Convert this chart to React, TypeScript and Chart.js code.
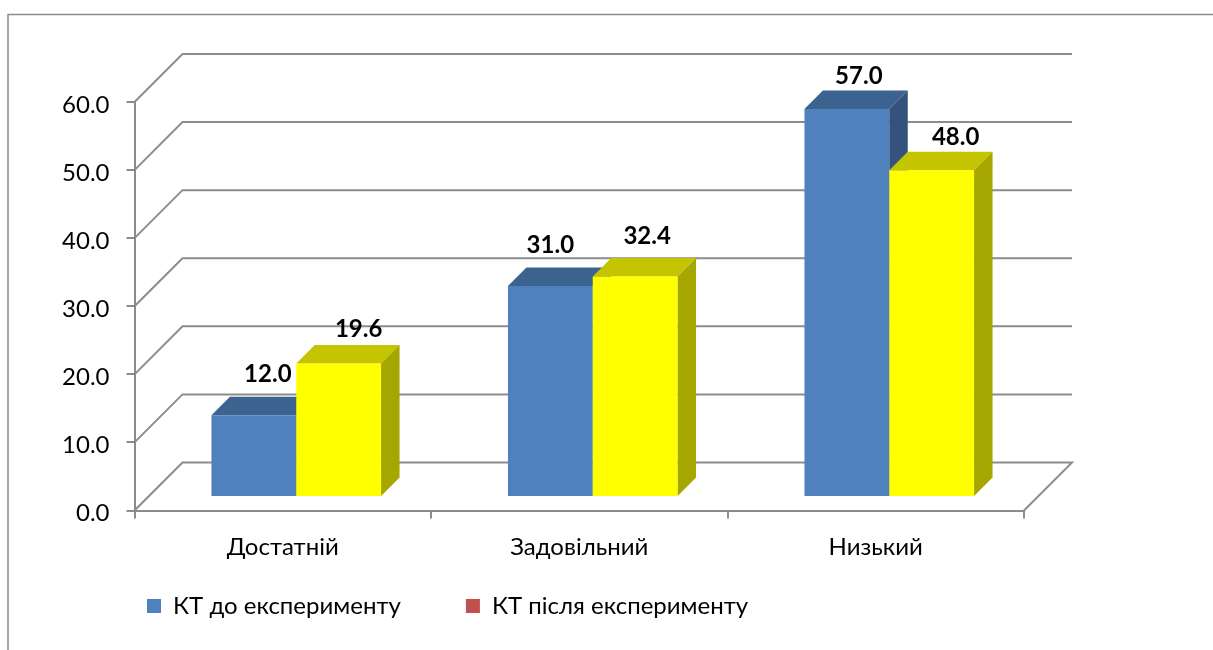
import React, { useEffect, useRef } from "react";
import { Chart, registerables } from "chart.js";

Chart.register(...registerables);

const categories = ["Достатній", "Задовільний", "Низький"];
const seriesBeforeName = "КТ до експерименту";
const seriesAfterName = "КТ після експерименту";
const seriesBefore = [12.0, 31.0, 57.0];
const seriesAfter = [19.6, 32.4, 48.0];
const yMax = 60;
const yStep = 10;

// hand-placed label nudges of the reference, in px from the default spot above the bar
const labelNudgeBefore = [[14, -41], [0, -41], [12, -33]];
const labelNudgeAfter = [[20, -34], [12, -40], [24, -33]];

const FONT = "Lato, 'Open Sans', sans-serif";
const GRID = "#8c8c8c";
const WALL = 48;
const SHIFT = 13.5;
const DEPTH = 18.5;
const faces = [
  { top: "#3c6390", side: "#33537d" },
  { top: "#c4c400", side: "#a6a600" },
];

function poly(ctx: CanvasRenderingContext2D, pts: number[][], fill: string) {
  ctx.beginPath();
  pts.forEach((p, i) => (i ? ctx.lineTo(p[0], p[1]) : ctx.moveTo(p[0], p[1])));
  ctx.closePath();
  ctx.fillStyle = fill;
  ctx.fill();
}

const threeD = {
  id: "threeD",
  beforeLayout(chart: any) {
    const lg = chart.legend;
    if (lg && !lg.__patched) {
      const fit = lg.fit;
      lg.fit = function () {
        fit.call(this);
        this.height = 40;
      };
      lg.__patched = true;
    }
  },
  afterLayout(chart: any) {
    const lg = chart.legend;
    const p = lg.options.labels.padding;
    lg.left = 147 - p;
    lg.right = lg.left + 1000;
    lg.top = 594 - p;
  },
  beforeDraw(chart: any) {
    const ctx = chart.ctx;
    ctx.save();
    ctx.strokeStyle = "#8a8a8a";
    ctx.lineWidth = 1.5;
    ctx.beginPath();
    ctx.moveTo(8, 650);
    ctx.lineTo(8, 14.5);
    ctx.lineTo(1213, 14.5);
    ctx.stroke();
    ctx.restore();
  },
  beforeDatasetsDraw(chart: any) {
    const { ctx, chartArea: a, scales } = chart;
    ctx.save();
    ctx.strokeStyle = GRID;
    ctx.lineWidth = 2;
    ctx.lineJoin = "miter";
    scales.y.ticks.forEach((t: any) => {
      const y = scales.y.getPixelForValue(t.value);
      ctx.beginPath();
      ctx.moveTo(a.left, y);
      ctx.lineTo(a.left + WALL, y - WALL);
      ctx.lineTo(a.right + WALL, y - WALL);
      if (t.value === 0) ctx.lineTo(a.right, y);
      ctx.stroke();
    });
    ctx.restore();

    // series are painted left to right so the right-hand bar overlaps its neighbour's side
    ctx.save();
    ctx.translate(SHIFT, -SHIFT);
    chart.data.datasets.forEach((_: any, ds: number) => {
      const f = faces[ds];
      chart.getDatasetMeta(ds).data.forEach((el: any) => {
        const { x, y, base, width } = el.getProps(["x", "y", "base", "width"], true);
        const l = x - width / 2;
        const r = x + width / 2;
        poly(ctx, [[l, y], [l + DEPTH, y - DEPTH], [r + DEPTH, y - DEPTH], [r, y]], f.top);
        poly(ctx, [[r, y], [r + DEPTH, y - DEPTH], [r + DEPTH, base - DEPTH], [r, base]], f.side);
        el.draw(ctx);
      });
    });
    ctx.restore();
  },
  beforeDatasetDraw() {
    return false;
  },
  afterDatasetsDraw(chart: any) {
    const ctx = chart.ctx;
    ctx.save();
    ctx.font = `bold 24px ${FONT}`;
    ctx.fillStyle = "#000";
    ctx.textAlign = "center";
    ctx.textBaseline = "middle";
    [labelNudgeBefore, labelNudgeAfter].forEach((nudge, ds) => {
      chart.getDatasetMeta(ds).data.forEach((el: any, i: number) => {
        const v = chart.data.datasets[ds].data[i] as number;
        ctx.fillText(v.toFixed(1), el.x + SHIFT + nudge[i][0], el.y - SHIFT + nudge[i][1]);
      });
    });
    ctx.restore();
  },
};

export default function App() {
  const ref = useRef<HTMLCanvasElement>(null);
  useEffect(() => {
    const chart = new Chart(ref.current as HTMLCanvasElement, {
      type: "bar",
      data: {
        labels: categories,
        datasets: [
          { label: seriesBeforeName, data: seriesBefore, backgroundColor: "#4f81bd" },
          { label: seriesAfterName, data: seriesAfter, backgroundColor: "#ffff00" },
        ],
      },
      options: {
        animation: false,
        responsive: false,
        devicePixelRatio: 1,
        categoryPercentage: 0.572,
        barPercentage: 1,
        layout: { padding: { left: 0, right: 189, top: 102, bottom: 0 } },
        plugins: {
          tooltip: { enabled: false },
          legend: {
            position: "bottom",
            align: "start",
            labels: {
              font: { family: FONT, size: 24 },
              color: "#000",
              boxWidth: 14,
              boxHeight: 14,
              padding: 65,
              generateLabels: () => [
                { text: seriesBeforeName, fillStyle: "#4f81bd", strokeStyle: "#4f81bd", lineWidth: 0, datasetIndex: 0 },
                { text: seriesAfterName, fillStyle: "#c0504d", strokeStyle: "#c0504d", lineWidth: 0, datasetIndex: 1 },
              ],
            },
          },
        },
        scales: {
          x: {
            afterFit: (s: any) => { s.height = 99.5; },
            grid: { drawOnChartArea: false, color: GRID, lineWidth: 2, tickLength: 8, offset: true },
            border: { display: true, color: GRID, width: 2 },
            ticks: { color: "#000", font: { family: FONT, size: 24 }, padding: 14, maxRotation: 0 },
          },
          y: {
            min: 0,
            max: yMax,
            afterFit: (s: any) => { s.width = 134.5; },
            grid: { drawOnChartArea: false, color: GRID, lineWidth: 2, tickLength: 8 },
            border: { display: true, color: GRID, width: 2 },
            ticks: {
              stepSize: yStep,
              color: "#000",
              font: { family: FONT, size: 24 },
              padding: 17,
              labelOffset: 3,
              callback: (v: any) => Number(v).toFixed(1),
            },
          },
        },
      },
      plugins: [threeD],
    } as any);
    return () => chart.destroy();
  }, []);
  return (
    <canvas
      ref={ref}
      width={1213}
      height={650}
      style={{ position: "fixed", left: 0, top: 0, width: 1213, height: 650, background: "#fff" }}
    />
  );
}
